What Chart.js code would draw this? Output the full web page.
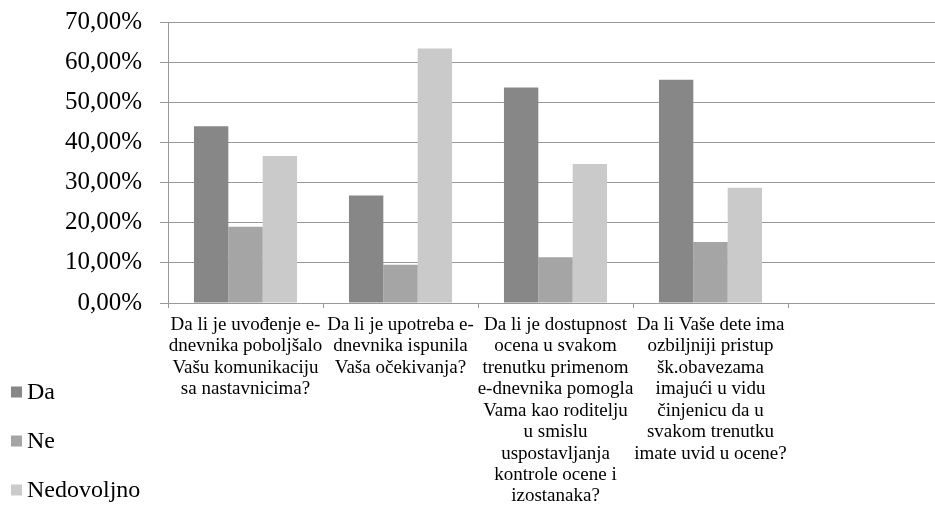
<!DOCTYPE html>
<html><head><meta charset="utf-8">
<script src="https://cdn.jsdelivr.net/npm/chart.js@4.4.0/dist/chart.umd.min.js"></script>
<style>
html,body{margin:0;padding:0;background:#fff;overflow:hidden;}
#wrap{position:relative;width:943px;height:506px;}
</style></head>
<body>
<div id="wrap"><canvas id="c" width="943" height="506"></canvas></div>
<script>
const categories = [
  ["Da li je uvođenje e-", "dnevnika poboljšalo", "Vašu komunikaciju", "sa nastavnicima?"],
  ["Da li je upotreba e-", "dnevnika ispunila", "Vaša očekivanja?"],
  ["Da li je dostupnost", "ocena u svakom", "trenutku primenom", "e-dnevnika pomogla", "Vama kao roditelju", "u smislu", "uspostavljanja", "kontrole ocene i", "izostanaka?"],
  ["Da li Vaše dete ima", "ozbiljniji pristup", "šk.obavezama", "imajući u vidu", "činjenicu da u", "svakom trenutku", "imate uvid u ocene?"],
  ""
];
const seriesNames = ["Da", "Ne", "Nedovoljno"];
const daValues = [44.0, 26.8, 53.7, 55.6, null];
const neValues = [19.0, 9.5, 11.4, 15.2, null];
const nedovoljnoValues = [36.6, 63.4, 34.6, 28.7, null];
const seriesColors = ["#878787", "#a5a5a5", "#cacaca"];

const FONT = "'Liberation Serif','Times New Roman',serif";

const sideLegend = {
  id: 'sideLegend',
  afterDraw(chart) {
    const ctx = chart.ctx;
    ctx.save();
    ctx.font = "24px " + FONT;
    ctx.textBaseline = 'middle';
    ctx.textAlign = 'left';
    chart.data.datasets.forEach((ds, i) => {
      const cy = 392 + i * 49;
      ctx.fillStyle = ds.backgroundColor;
      ctx.fillRect(11, cy - 5.5, 11, 11);
      ctx.fillStyle = '#000';
      ctx.fillText(ds.label, 27, cy + 1);
    });
    ctx.restore();
  }
};

new Chart(document.getElementById('c'), {
  type: 'bar',
  data: {
    labels: categories,
    datasets: [
      { label: seriesNames[0], data: daValues, backgroundColor: seriesColors[0] },
      { label: seriesNames[1], data: neValues, backgroundColor: seriesColors[1] },
      { label: seriesNames[2], data: nedovoljnoValues, backgroundColor: seriesColors[2] }
    ]
  },
  options: {
    responsive: false,
    animation: false,
    layout: { padding: { top: 22, right: 0, left: 0, bottom: 0 } },
    plugins: { legend: { display: false }, tooltip: { enabled: false } },
    datasets: { bar: { categoryPercentage: 0.665, barPercentage: 1.0, borderWidth: 0 } },
    scales: {
      x: {
        offset: true,
        grid: { offset: true, drawOnChartArea: false, drawTicks: true, tickLength: 5, color: '#999999', lineWidth: 1 },
        border: { color: '#999999', width: 1 },
        ticks: { color: '#000', autoSkip: false, maxRotation: 0, minRotation: 0, padding: 6,
          font: { family: FONT, size: 19, lineHeight: 1.13 } },
        afterFit(scale) { scale.height = 203; scale.paddingLeft = 0; scale.paddingRight = 0; }
      },
      y: {
        min: 0, max: 70,
        grid: { color: '#999999', lineWidth: 1, tickLength: 8 },
        border: { color: '#999999', width: 1 },
        ticks: { stepSize: 10, color: '#000', padding: 18,
          font: { family: FONT, size: 25 },
          callback: v => v.toFixed(2).replace('.', ',') + '%' },
        afterFit(scale) { scale.width = 168; scale.paddingTop = 0; scale.paddingBottom = 0; }
      }
    }
  },
  plugins: [sideLegend]
});
</script>
</body></html>
